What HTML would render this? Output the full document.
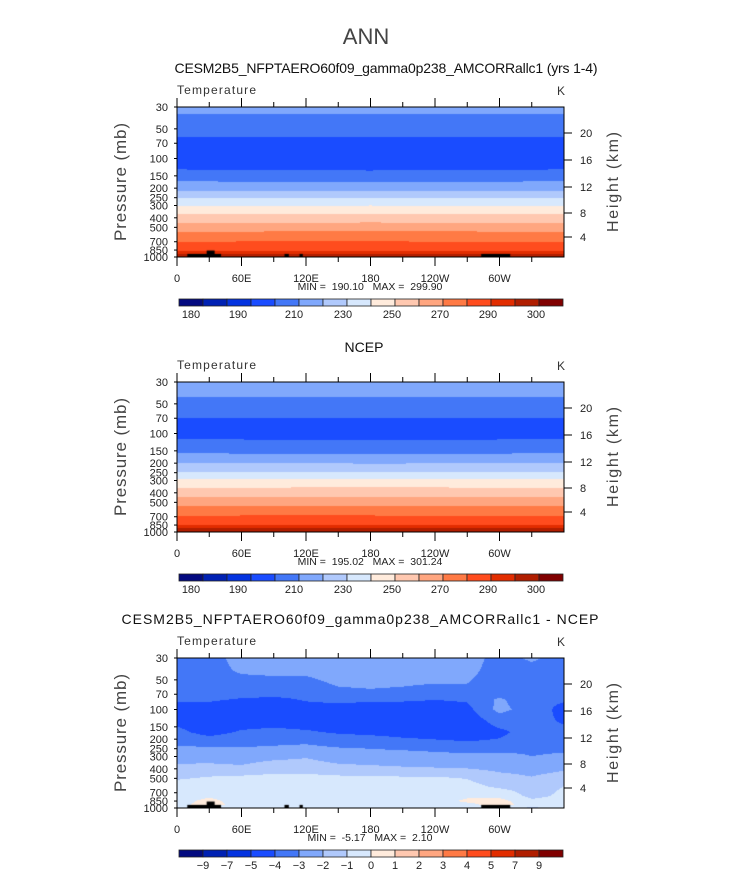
<!DOCTYPE html>
<html><head><meta charset="utf-8">
<style>
html,body{margin:0;padding:0;background:#fff;}
#wrap{position:relative;width:733px;height:873px;overflow:hidden;font-family:"Liberation Sans",sans-serif;}
canvas{position:absolute;left:177px;}
svg{position:absolute;left:0;top:0;}
.pre{white-space:pre;}
</style></head>
<body>
<div id="wrap">
<canvas id="c0" width="387" height="150" style="top:107px"></canvas>
<canvas id="c1" width="387" height="150" style="top:382px"></canvas>
<canvas id="c2" width="387" height="150" style="top:658px"></canvas>
<svg id="ov" width="733" height="873">
<text x="366" y="44" font-size="22" fill="#444" text-anchor="middle">ANN</text>
<text x="386" y="73" font-size="14" fill="#111" text-anchor="middle" textLength="423">CESM2B5_NFPTAERO60f09_gamma0p238_AMCORRallc1 (yrs 1-4)</text>
<text x="364" y="352" font-size="14" fill="#111" text-anchor="middle">NCEP</text>
<text x="360" y="624" font-size="14" fill="#111" text-anchor="middle" textLength="477">CESM2B5_NFPTAERO60f09_gamma0p238_AMCORRallc1 - NCEP</text>
</svg>
</div>
<script>
// ---------- data ----------
const tempLevels=[180,185,190,200,210,220,230,240,250,260,270,280,290,295,300];
const tempLabels=["180","190","210","230","250","270","290","300"];
const tempLabelX=[191,238,294,343,392,440,488,536];
const diffLevels=[-9,-7,-5,-4,-3,-2,-1,0,1,2,3,4,5,7,9];
const diffLabels=["-9","-7","-5","-4","-3","-2","-1","0","1","2","3","4","5","7","9"];
const palette=["#030a80","#0021b3","#0433e0","#1a4cff","#4377f7","#80a8fc","#b0c9fc","#d7e8fd","#ffebdc","#ffc8b0","#ffa680","#ff7a45","#ff4c1e","#e22d00","#b01e00","#800000"];
const pLabels=[30,50,70,100,150,200,250,300,400,500,700,850,1000];
const hLabels=[20,16,12,8,4];
const hOffsets=[26,53,80,106,130];
const lonTicks=[0,60,120,180,240,300];
const lonTickLabels=["0","60E","120E","180","120W","60W"];
const minorLon=[30,90,150,210,270,330];
const panelMins=["190.10","195.02","-5.17"];
const panelMaxs=["299.90","301.24","2.10"];

const lons1=[0,90,180,270,360];
const pres1=[30,35,48,61,90,131,172,214,254,304,369,448,553,699,869,930,1000];
const grid1=[
[216,216,216,216,216],
[210,210,210,210,210],
[204,204,204,204,204],
[200,200,200,200,200],
[193,193,193,193,193],
[200.3,199.8,199.6,200,200.3],
[210.3,210,209.8,210,210.3],
[220.2,220,219.8,220,220.2],
[230,230,230,230,230],
[240,240.4,240.8,240.3,240],
[250,250.3,250.4,250.2,250],
[260,260,260.2,260,260],
[270,270.2,270.3,270.2,270],
[280,280.3,280.3,280,280],
[290,289.6,289.8,289.9,290],
[295,294.6,294.8,295.2,295],
[298,298,298.5,298,298]];

const lons2=[0,90,180,270,360];
const pres2=[30,43,56,70,90,114,159,201,244,292,355,438,541,683,849,910,1000];
const grid2=[
[213,213,213,213,213],
[210,210,210,210,210],
[205,205,205,205,205],
[200,200,200,200,200],
[195,195,195,195,195],
[200,199.6,199.5,199.6,200],
[210,209.7,209.6,209.7,210],
[220,220,219.8,219.9,220],
[230,230,230,230,230],
[240,240.3,240.6,240.2,240],
[250,250.2,250.4,250.2,250],
[260,260,260.2,260,260],
[270,270.1,270.2,270.1,270],
[280,280.3,280.2,280,280],
[290,290.2,290,290.2,290],
[295,295.3,295,295.2,295],
[299,299,299.5,299,299]];

const lons3=[0,30,60,90,120,150,180,210,240,270,300,330,360];
const pres3=[30,40,50,65,80,100,130,170,210,250,300,380,480,600,750,850,925,1000];
const grid3=[
[-3.0,-3.4,-2.6,-2.5,-2.6,-2.3,-2.2,-2.2,-2.3,-2.4,-3.5,-2.8,-3.5],
[-3.3,-3.5,-2.8,-2.7,-2.7,-2.5,-2.4,-2.4,-2.5,-2.6,-3.6,-3.4,-3.6],
[-3.5,-3.6,-3.3,-3.2,-3.2,-2.7,-2.6,-2.7,-2.8,-2.9,-3.7,-3.6,-3.7],
[-3.6,-3.7,-3.6,-3.6,-3.7,-3.2,-3.1,-3.2,-3.4,-3.2,-3.6,-3.7,-3.8],
[-3.9,-3.9,-4.1,-4.2,-3.95,-3.8,-3.9,-3.9,-4.0,-3.9,-2.8,-3.8,-3.9],
[-4.3,-4.4,-4.7,-4.6,-4.3,-4.4,-4.4,-4.5,-4.5,-4.3,-2.7,-3.5,-4.3],
[-4.2,-4.5,-4.4,-4.3,-4.4,-4.5,-4.6,-4.6,-4.6,-4.6,-3.6,-3.7,-4.1],
[-3.8,-4.3,-3.9,-3.8,-3.9,-4.1,-4.2,-4.3,-4.4,-4.5,-4.2,-3.6,-3.8],
[-3.3,-3.6,-3.4,-3.3,-3.2,-3.5,-3.6,-3.8,-3.9,-4.0,-3.9,-3.5,-3.4],
[-2.8,-2.8,-2.9,-2.8,-2.7,-2.9,-3.0,-3.1,-3.2,-3.3,-3.4,-3.2,-3.2],
[-2.3,-2.4,-2.5,-2.3,-2.1,-2.5,-2.6,-2.6,-2.7,-2.8,-2.6,-3.0,-2.8],
[-1.9,-1.8,-1.9,-1.5,-1.5,-1.8,-1.9,-2.0,-2.1,-2.2,-2.4,-2.5,-2.3],
[-1.2,-1.0,-0.9,-0.8,-0.8,-0.9,-0.9,-1.0,-1.0,-1.1,-1.7,-2.0,-1.6],
[-0.6,-0.4,-0.5,-0.5,-0.5,-0.5,-0.5,-0.5,-0.5,-0.7,-1.2,-1.4,-1.0],
[-0.5,-0.2,-0.5,-0.5,-0.5,-0.5,-0.5,-0.5,-0.5,-0.2,-0.3,-1.3,-0.8],
[-0.4,0.3,-0.5,-0.5,-0.5,-0.5,-0.5,-0.5,-0.5,0.2,0.4,-0.8,-0.6],
[-0.4,0.5,-0.5,-0.6,-0.6,-0.6,-0.6,-0.6,-0.6,-0.3,0.5,-0.6,-0.5],
[-0.5,-0.5,-0.5,-0.5,-0.5,-0.5,-0.5,-0.5,-0.5,-0.5,-0.5,-1.2,-0.5]];

// topography mask: [lonStart, lonEnd, topPressure]
const maskLonStart=[9.6,27.6,100,114,283];
const maskLonEnd=[41,35,104,117,310];
const maskTopP=[930,860,930,930,930];

// ---------- layout ----------
const PX=177,PW=387,PH=150;
const tops=[107,382,658];
const LR=Math.log(1000/30);
function yRel(p){return PH-Math.log(1000/p)/LR*PH;}
function xRel(lon){return lon/360*PW;}

function interp(lons,pres,grid,lon,lp){
  let i=0;while(i<lons.length-2&&lon>lons[i+1])i++;
  let j=0;while(j<pres.length-2&&lp>Math.log(pres[j+1]))j++;
  const tx=Math.max(0,Math.min(1,(lon-lons[i])/(lons[i+1]-lons[i])));
  const l0=Math.log(pres[j]),l1=Math.log(pres[j+1]);
  const ty=Math.max(0,Math.min(1,(lp-l0)/(l1-l0)));
  const a=grid[j][i],b=grid[j][i+1],c=grid[j+1][i],d=grid[j+1][i+1];
  return (a*(1-tx)+b*tx)*(1-ty)+(c*(1-tx)+d*tx)*ty;
}
function bin(levels,v){let k=0;while(k<levels.length&&v>=levels[k])k++;return k;}
function hex(h){return [parseInt(h.substr(1,2),16),parseInt(h.substr(3,2),16),parseInt(h.substr(5,2),16)];}
const palRGB=palette.map(hex);

function drawField(id,lons,pres,grid,levels,mask){
  const cv=document.getElementById(id),ctx=cv.getContext('2d');
  const img=ctx.createImageData(PW,PH);
  for(let y=0;y<PH;y++){
    const lp=Math.log(1000)-(PH-(y+0.5))/PH*LR;
    for(let x=0;x<PW;x++){
      const lon=(x+0.5)/PW*360;
      const v=interp(lons,pres,grid,lon,lp);
      const c=palRGB[bin(levels,v)];
      const o=(y*PW+x)*4;img.data[o]=c[0];img.data[o+1]=c[1];img.data[o+2]=c[2];img.data[o+3]=255;
    }
  }
  ctx.putImageData(img,0,0);
  if(mask){
    ctx.fillStyle='#000';
    for(let m=0;m<maskLonStart.length;m++){
      const x0=xRel(maskLonStart[m]),x1=xRel(maskLonEnd[m]),y0=yRel(maskTopP[m]);
      ctx.fillRect(x0,y0,x1-x0,PH-y0);
    }
  }
}
drawField('c0',lons1,pres1,grid1,tempLevels,true);
drawField('c1',lons2,pres2,grid2,tempLevels,false);
drawField('c2',lons3,pres3,grid3,diffLevels,true);

// ---------- axes ----------
const NS='http://www.w3.org/2000/svg';
const ov=document.getElementById('ov');
function mk(tag,attrs,txt){const e=document.createElementNS(NS,tag);for(const k in attrs)e.setAttribute(k,attrs[k]);if(txt!==undefined)e.textContent=txt;ov.appendChild(e);return e;}

for(let pi=0;pi<3;pi++){
  const T=tops[pi];
  let e=mk('rect',{x:PX,y:T,width:PW,height:PH,fill:'none',stroke:'#000','stroke-width':1});
  
  
  for(let k=0;k<pLabels.length;k++){
    const y=T+yRel(pLabels[k]);
    e=mk('line',{x1:PX-3,x2:PX,y1:y,y2:y,stroke:'#000'});
    
    
    e=mk('text',{x:168,y:y+4,'font-size':11,'text-anchor':'end',fill:'#222'},String(pLabels[k]));
    
    
  }
  for(let k=0;k<hLabels.length;k++){
    const y=T+hOffsets[k];
    e=mk('line',{x1:PX+PW,x2:PX+PW+8,y1:y,y2:y,stroke:'#000'});
    
    
    e=mk('text',{x:580,y:y+4,'font-size':11,fill:'#222'},String(hLabels[k]));
    
    
  }
  for(let k=0;k<lonTicks.length;k++){
    const x=PX+xRel(lonTicks[k]);
    e=mk('line',{x1:x,x2:x,y1:T-9,y2:T,stroke:'#000'});
    
    
    e=mk('line',{x1:x,x2:x,y1:T+PH,y2:T+PH+9,stroke:'#000'});
    
    
    e=mk('text',{x:x,y:T+PH+25,'font-size':11,'text-anchor':'middle',fill:'#222'},lonTickLabels[k]);
    
    
  }
  for(let k=0;k<minorLon.length;k++){
    const x=PX+xRel(minorLon[k]);
    e=mk('line',{x1:x,x2:x,y1:T-5,y2:T,stroke:'#000'});
    
    
    e=mk('line',{x1:x,x2:x,y1:T+PH,y2:T+PH+5,stroke:'#000'});
    
    
  }
  e=mk('text',{x:177,y:T-13,'font-size':12,fill:'#333',textLength:79},'Temperature');
  
  
  e=mk('text',{x:557,y:T-12,'font-size':12,fill:'#333'},'K');
  
  
  const cy=T+75;
  e=mk('text',{x:0,y:0,'font-size':17,fill:'#444','text-anchor':'middle',textLength:118,transform:'translate(126,'+cy+') rotate(-90)'},'Pressure (mb)');
  
  
  e=mk('text',{x:0,y:0,'font-size':16,fill:'#444','text-anchor':'middle',textLength:100,transform:'translate(618,'+cy+') rotate(-90)'},'Height (km)');
  
  
  e=mk('text',{x:370,y:T+PH+33,'font-size':10.5,'text-anchor':'middle',fill:'#222','class':'pre'},'MIN =  '+panelMins[pi]+'   MAX =  '+panelMaxs[pi]);
  
  
  // colorbar
  const by=T+192;
  for(let b=0;b<16;b++){
    e=mk('rect',{x:179+24*b,y:by,width:24,height:7,fill:palette[b],stroke:'#222','stroke-width':0.8});
    
    
  }
  if(pi<2){
    for(let k=0;k<tempLabels.length;k++){
      e=mk('text',{x:tempLabelX[k],y:by+19,'font-size':11,'text-anchor':'middle',fill:'#222'},tempLabels[k]);
      
      
    }
  } else {
    for(let k=0;k<diffLabels.length;k++){
      e=mk('text',{x:179+24*(k+1),y:by+19,'font-size':11,'text-anchor':'middle',fill:'#222'},diffLabels[k].replace('-','\u2212'));
      
      
    }
  }
}
</script>
</body></html>
